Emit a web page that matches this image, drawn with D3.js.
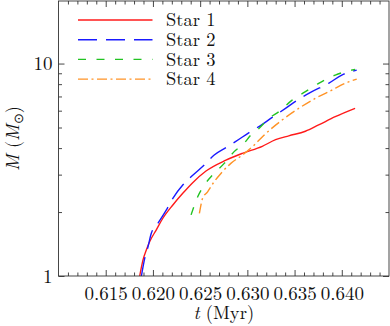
<!DOCTYPE html>
<html><head><meta charset="utf-8">
<script src="https://cdn.jsdelivr.net/npm/d3@7"></script>
<style>
html,body{margin:0;padding:0;background:#fff;}
svg{display:block;}
</style></head>
<body>
<svg id="chart" width="390" height="326"></svg>
<script>
// ---- data ----
const seriesNames = ["Star 1", "Star 2", "Star 3", "Star 4"];
const star1T = [0.6186,0.61895,0.61931,0.61965,0.62036,0.62105,0.62211,0.62316,0.62421,0.62562,0.62773,0.62947,0.63158,0.63299,0.63439,0.63615,0.63755,0.63931,0.64141];
const star1M = [1.0,1.19,1.33,1.45,1.65,1.87,2.16,2.45,2.75,3.12,3.51,3.78,4.08,4.38,4.57,4.80,5.14,5.62,6.15];
const star2T = [0.61878,0.61913,0.61947,0.61983,0.62053,0.62141,0.62211,0.62316,0.62404,0.62544,0.62649,0.62773,0.62878,0.63018,0.63123,0.63263,0.63404,0.63544,0.63684,0.6386,0.64,0.64158];
const star2M = [1.0,1.21,1.37,1.59,1.77,2.04,2.32,2.68,2.93,3.33,3.71,4.02,4.30,4.73,5.05,5.58,6.15,6.79,7.37,8.07,8.83,9.31];
const star3T = [0.62404,0.62474,0.62544,0.62632,0.62755,0.6286,0.62965,0.63036,0.63123,0.63228,0.63333,0.63474,0.63615,0.63755,0.63931,0.64036,0.64141];
const star3M = [1.94,2.36,2.68,2.99,3.39,3.85,4.21,4.60,4.95,5.52,5.93,6.73,7.37,8.07,8.83,9.15,9.39];
const star4T = [0.62492,0.62526,0.62579,0.62649,0.6272,0.62825,0.62947,0.63071,0.63176,0.63368,0.63544,0.6372,0.63895,0.64036,0.64158];
const star4M = [1.97,2.32,2.49,2.78,3.04,3.39,3.71,4.13,4.60,5.42,6.15,6.86,7.50,8.07,8.45];
const xMajorTicks = [0.615,0.620,0.625,0.630,0.635,0.640];
const xTickLabels = ["0.615","0.620","0.625","0.630","0.635","0.640"];
const yMajorTicks = [1,10];
const yTickLabels = ["1","10"];
const yMinorTicks = [2,3,4,5,6,7,8,9];

// ---- fonts ----
const FAM = "font-family:'Latin Modern Roman','Liberation Serif',serif;";
const TICKF = FAM + "font-size:19px;";
const LEGF = FAM + "font-size:18.5px;";
const labFS = 18.5;
const LABF = FAM + `font-size:${labFS}px;`;

// ---- layout ----
const svg = d3.select("#chart");
const L = 58.5, R = 389, T = 1, B = 276;
const x = d3.scaleLinear().domain([0.610, 0.645]).range([L, R]);
const y = d3.scaleLog().domain([1, 19.7]).range([B, T]);

const colors = ["#ff1a1a", "#1a1aff", "#22c322", "#ff9326"];
const dashes = [null, "19,9", "8,10.5", "10,3.5,2,3.5"];
const series = [[star1T, star1M],[star2T, star2M],[star3T, star3M],[star4T, star4M]];

svg.append("clipPath").attr("id","clip").append("rect")
  .attr("x", L).attr("y", T).attr("width", R-L).attr("height", B-T);

const line = d3.line().x(d=>x(d[0])).y(d=>y(d[1])).curve(d3.curveMonotoneX);
const plot = svg.append("g").attr("clip-path","url(#clip)");
series.forEach((s,i)=>{
  const pts = s[0].map((t,j)=>[t, s[1][j]]);
  plot.append("path").datum(pts).attr("d", line)
    .attr("fill","none").attr("stroke",colors[i]).attr("stroke-width",1.4)
    .attr("stroke-dasharray", dashes[i]);
});

// ---- axes ----
const xMinor = d3.range(0.611, 0.6445, 0.001).filter(v => !xMajorTicks.some(m => Math.abs(m - v) < 1e-6));
const axisColor = "#333";
function styleAxis(g){
  g.select(".domain").remove();
  g.selectAll("line").attr("stroke", axisColor).attr("stroke-width", 0.9);
  g.attr("font-family", null).attr("font-size", null);
  g.selectAll("text").attr("fill","#111").attr("style", TICKF);
}
svg.append("g").attr("transform",`translate(0,${B})`)
  .call(d3.axisBottom(x).tickValues(xMajorTicks).tickFormat((d,i)=>xTickLabels[i]).tickSize(-6).tickPadding(0)).call(styleAxis)
  .selectAll("text").attr("dy", null).attr("y", 300 - B);
svg.append("g").attr("transform",`translate(0,${B})`)
  .call(d3.axisBottom(x).tickValues(xMinor).tickFormat("").tickSize(-3.5)).call(styleAxis);
svg.append("g").attr("transform",`translate(0,${T})`)
  .call(d3.axisTop(x).tickValues(xMajorTicks).tickFormat("").tickSize(-6)).call(styleAxis);
svg.append("g").attr("transform",`translate(0,${T})`)
  .call(d3.axisTop(x).tickValues(xMinor).tickFormat("").tickSize(-3.5)).call(styleAxis);
svg.append("g").attr("transform",`translate(${L},0)`)
  .call(d3.axisLeft(y).tickValues(yMajorTicks).tickFormat((d,i)=>yTickLabels[i]).tickSize(-6).tickPadding(6)).call(styleAxis);
svg.append("g").attr("transform",`translate(${L},0)`)
  .call(d3.axisLeft(y).tickValues(yMinorTicks).tickFormat("").tickSize(-3.5)).call(styleAxis);
svg.append("g").attr("transform",`translate(${R},0)`)
  .call(d3.axisRight(y).tickValues(yMajorTicks).tickFormat("").tickSize(-6)).call(styleAxis);
svg.append("g").attr("transform",`translate(${R},0)`)
  .call(d3.axisRight(y).tickValues(yMinorTicks).tickFormat("").tickSize(-3.5)).call(styleAxis);

svg.append("rect").attr("x",L).attr("y",T).attr("width",R-L).attr("height",B-T)
  .attr("fill","none").attr("stroke",axisColor).attr("stroke-width",0.9);

// ---- axis labels ----
const xl = svg.append("text").attr("x",(L+R)/2).attr("y",319).attr("text-anchor","middle")
  .attr("style", LABF).attr("fill","#111");
xl.append("tspan").attr("style","font-style:italic").text("t");
xl.append("tspan").text(" (Myr)");

const yl = svg.append("text").attr("transform",`translate(19,${(T+B)/2}) rotate(-90)`)
  .attr("text-anchor","middle").attr("style", LABF).attr("fill","#111");
yl.append("tspan").attr("style","font-style:italic").text("M");
yl.append("tspan").text(" (");
yl.append("tspan").attr("style","font-style:italic").text("M");
yl.append("tspan").attr("dy",3.5).attr("style",`font-size:${labFS*0.72}px`).text("⊙");
yl.append("tspan").attr("dy",-3.5).text(")");

// ---- legend ----
const legY = [20, 39.7, 59.4, 79.1];
seriesNames.forEach((n,i)=>{
  svg.append("line").attr("x1",78).attr("x2",152.5).attr("y1",legY[i]).attr("y2",legY[i])
    .attr("stroke",colors[i]).attr("stroke-width",1.4).attr("stroke-dasharray",dashes[i]);
  svg.append("text").attr("x",166).attr("y",legY[i]).attr("dy","0.34em")
    .attr("style", LEGF).attr("fill","#111").text(n);
});
</script>
</body></html>
